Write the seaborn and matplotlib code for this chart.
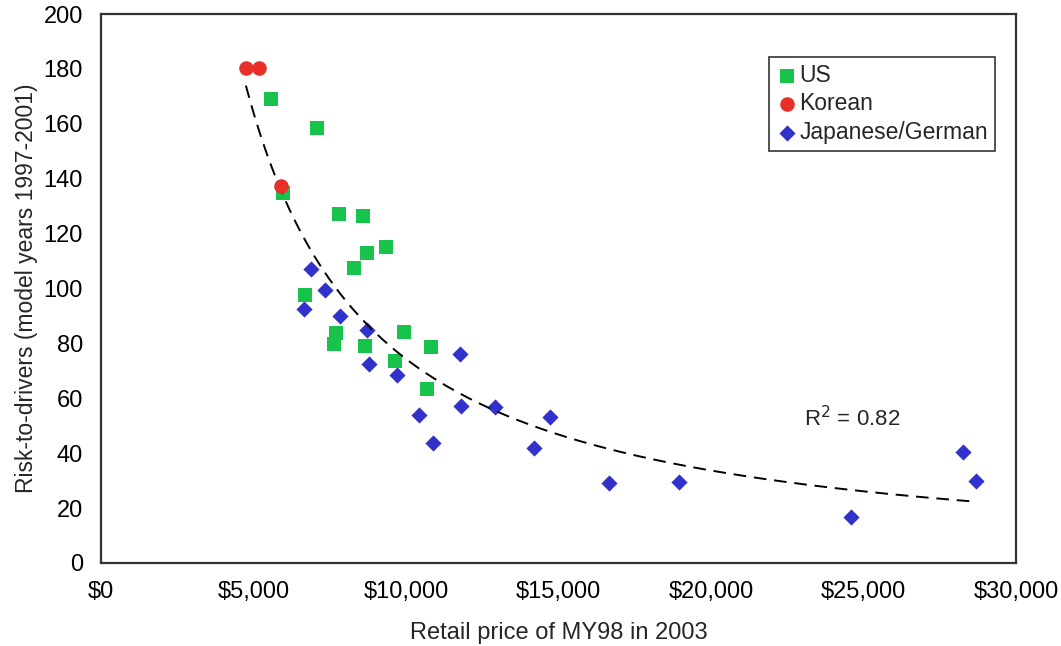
import numpy as np
import pandas as pd
import matplotlib
matplotlib.use("Agg")
import matplotlib.pyplot as plt
import seaborn as sns
from matplotlib.ticker import FuncFormatter, MultipleLocator

# Retail price (USD) and risk-to-drivers by manufacturer origin
us_price = [5570, 7080, 5970, 7800, 8590, 9345, 8720, 8300, 6690, 7710, 7640,
            9935, 8660, 10820, 9640, 10690]
us_risk = [169.0, 158.5, 134.8, 127.1, 126.4, 115.1, 112.9, 107.5, 97.6, 83.8,
           79.8, 84.2, 79.1, 78.7, 73.6, 63.4]

korean_price = [4750, 5180, 5900]
korean_risk = [180.3, 180.3, 137.3]

jg_price = [6890, 7345, 6660, 7840, 8720, 8790, 9710, 11770, 11800, 10430,
            10890, 12920, 14720, 14200, 16660, 18950, 24590, 28265, 28690]
jg_risk = [107.1, 99.5, 92.5, 90.0, 84.9, 72.5, 68.5, 76.1, 57.2, 53.9,
           43.7, 56.8, 53.2, 41.9, 29.1, 29.5, 16.8, 40.4, 29.9]

groups = ["US", "Korean", "Japanese/German"]
r_squared = 0.82

df = pd.concat([
    pd.DataFrame({"price": us_price, "risk": us_risk, "origin": groups[0]}),
    pd.DataFrame({"price": korean_price, "risk": korean_risk, "origin": groups[1]}),
    pd.DataFrame({"price": jg_price, "risk": jg_risk, "origin": groups[2]}),
], ignore_index=True)

sns.set_style("white")
plt.rcParams["font.family"] = ["Liberation Sans", "DejaVu Sans"]

fig = plt.figure(figsize=(10.61, 6.46), dpi=100)
ax = fig.add_axes([0.0952, 0.1285, 0.8624, 0.8498])

colors = {"US": "#17C34A", "Korean": "#E8302A", "Japanese/German": "#3131CC"}
markers = {"US": "s", "Korean": "o", "Japanese/German": "D"}
sizes = {"US": 100, "Korean": 110, "Japanese/German": 68}

# Power-law trend fitted in log space over all vehicles
slope, intercept = np.polyfit(np.log(df["price"]), np.log(df["risk"]), 1)
xs = np.linspace(df["price"].min(), df["price"].max(), 300)
trend = pd.DataFrame({"price": xs, "risk": np.exp(intercept) * xs ** slope})
sns.lineplot(data=trend, x="price", y="risk", ax=ax, color="black", lw=1.4,
             linestyle=(0, (6.5, 4)), zorder=3)

# Korean drawn last so its markers sit on top
for g in ["Japanese/German", "US", "Korean"]:
    sub = df[df["origin"] == g]
    sns.scatterplot(data=sub, x="price", y="risk", ax=ax, color=colors[g],
                    marker=markers[g], s=sizes[g], linewidth=0, label=g,
                    zorder=2 if g != "Korean" else 4)

ax.set_xlim(0, 30000)
ax.set_ylim(0, 200)
ax.xaxis.set_major_locator(MultipleLocator(5000))
ax.yaxis.set_major_locator(MultipleLocator(20))
ax.xaxis.set_major_formatter(FuncFormatter(lambda v, p: f"${v:,.0f}"))

ax.tick_params(axis="both", direction="out", length=5, width=1, color="#AAAAAA",
               labelsize=17, labelcolor="black", pad=8)
for sp in ax.spines.values():
    sp.set_color("#333333")
    sp.set_linewidth(1.6)

ax.set_xlabel("Retail price of MY98 in 2003", fontsize=17, labelpad=14)
ax.set_ylabel("Risk-to-drivers (model years 1997-2001)", fontsize=16.5, labelpad=4)

ax.text(23050, 52.5, f"R$^2$ = {r_squared:.2f}", fontsize=16, va="center", ha="left")

handles, labels = ax.get_legend_handles_labels()
order = [labels.index(g) for g in groups]
leg = ax.legend([handles[i] for i in order], [labels[i] for i in order],
                loc="upper right", bbox_to_anchor=(0.977, 0.922), frameon=True,
                fancybox=False, edgecolor="black", fontsize=16.5,
                handletextpad=0.05, borderpad=0.3, labelspacing=0.25,
                handlelength=1.0, borderaxespad=0, markerscale=1.0)
leg.get_frame().set_linewidth(1.2)

fig.savefig("out.png", dpi=100, facecolor="white")
